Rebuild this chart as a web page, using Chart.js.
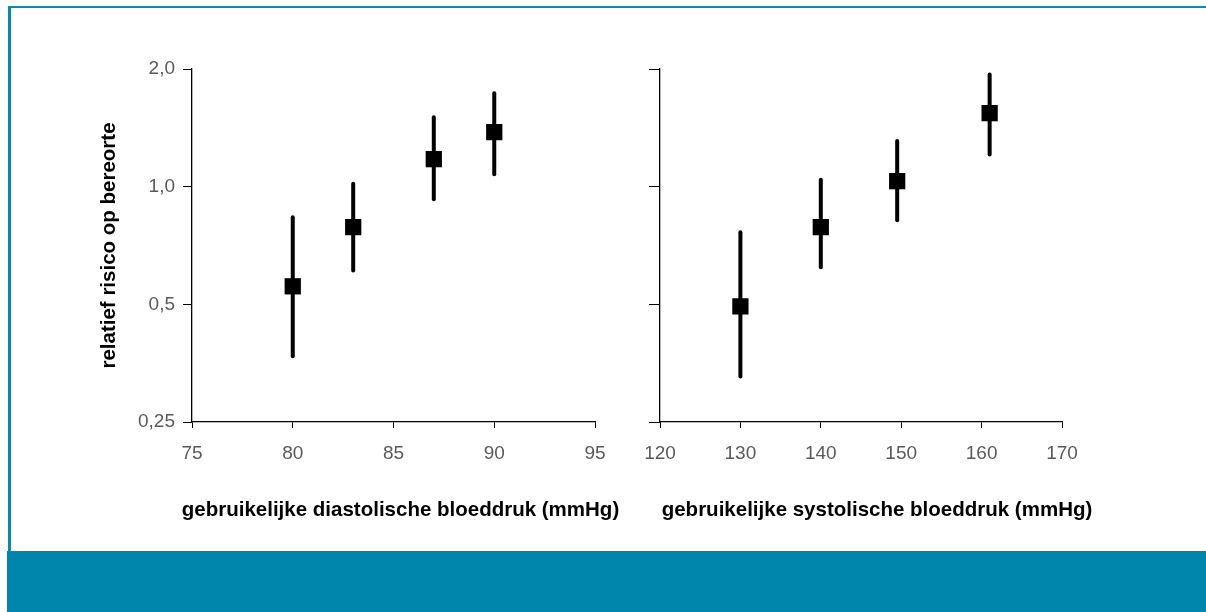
<!DOCTYPE html>
<html>
<head>
<meta charset="utf-8">
<script src="https://cdn.jsdelivr.net/npm/chart.js@4.4.1/dist/chart.umd.min.js"></script>
<style>
  html, body { margin: 0; padding: 0; background: #fff; }
  body { width: 1206px; height: 612px; position: relative; overflow: hidden; }
  .frame { position: absolute; left: 8px; top: 6px; width: 1210px; height: 560px;
           border-top: 2px solid #0a89b0; border-left: 3px solid #0a89b0; }
  .band { position: absolute; left: 7px; top: 551px; right: 0; bottom: 0; background: #0086ad; }
  .box { position: absolute; top: 0; }
</style>
</head>
<body>
<div class="frame"></div>
<div class="box" style="left:0;width:630px;height:550px;"><canvas id="dia" width="630" height="550"></canvas></div>
<div class="box" style="left:600px;width:606px;height:550px;"><canvas id="sys" width="606" height="550"></canvas></div>
<div class="band"></div>
<script>
// relatief risico (log-schaal)
const yTicks = [0.25, 0.5, 1, 2];
const yTickLabels = ['0,25', '0,5', '1,0', '2,0'];

// diastolisch
const diaX  = [80, 83, 87, 90];
const diaRR = [0.556, 0.788, 1.176, 1.379];
const diaLo = [0.368, 0.610, 0.929, 1.076];
const diaHi = [0.835, 1.017, 1.506, 1.735];

// systolisch
const sysX  = [130, 140, 149.5, 161];
const sysRR = [0.494, 0.788, 1.033, 1.542];
const sysLo = [0.327, 0.622, 0.820, 1.209];
const sysHi = [0.765, 1.041, 1.308, 1.937];

const tickFont = { family: "'Liberation Sans', Arial, sans-serif", size: 19, weight: 'normal' };
const titleFont = { family: "'Liberation Sans', Arial, sans-serif", size: 20.5, weight: 'bold' };

// verticale lijnen voor betrouwbaarheidsintervallen
const errorBars = {
  id: 'errorBars',
  beforeDatasetsDraw(chart, args, opts) {
    const { ctx, scales: { x, y } } = chart;
    const pts = chart.data.datasets[0].data;
    ctx.save();
    ctx.strokeStyle = '#000';
    ctx.lineWidth = 4;
    ctx.lineCap = 'round';
    pts.forEach((p, i) => {
      const px = x.getPixelForValue(p.x);
      ctx.beginPath();
      ctx.moveTo(px, y.getPixelForValue(opts.lo[i]));
      ctx.lineTo(px, y.getPixelForValue(opts.hi[i]));
      ctx.stroke();
    });
    ctx.restore();
  }
};

// x-as titel, breder dan de as zelf (scale-titel wordt anders samengedrukt)
const xTitle = {
  id: 'xTitle',
  afterDraw(chart, args, opts) {
    const { ctx, scales: { x } } = chart;
    ctx.save();
    ctx.font = `bold ${titleFont.size}px ${titleFont.family}`;
    ctx.fillStyle = '#000';
    ctx.textAlign = 'center';
    ctx.textBaseline = 'alphabetic';
    ctx.fillText(opts.text, (x.left + x.right) / 2 + opts.shift, opts.baseline);
    ctx.restore();
  }
};

function makeChart(id, xs, rr, lo, hi, xMin, xMax, xStep, title, opt) {
  new Chart(document.getElementById(id), {
    type: 'scatter',
    data: {
      datasets: [{
        data: xs.map((v, i) => ({ x: v, y: rr[i] })),
        pointStyle: 'rect',
        pointRadius: 11.5,
        pointHoverRadius: 11.5,
        borderWidth: 0,
        backgroundColor: '#000'
      }]
    },
    options: {
      responsive: false,
      animation: false,
      layout: { padding: opt.padding },
      plugins: {
        legend: { display: false },
        tooltip: { enabled: false },
        errorBars: { lo: lo, hi: hi },
        xTitle: { text: title, shift: opt.titleShift, baseline: 516 }
      },
      scales: {
        x: {
          type: 'linear',
          min: xMin, max: xMax,
          afterFit: s => { s.height = 110; },
          ticks: { stepSize: xStep, color: '#5a5a5a', font: tickFont, padding: 14, maxRotation: 0 },
          grid: { drawOnChartArea: false, drawTicks: true, tickLength: 6, color: '#000' },
          border: { display: true, color: '#000', width: 1.3 }
        },
        y: {
          type: 'logarithmic',
          min: 0.25, max: 2,
          afterFit: s => { s.width = opt.yWidth; },
          afterBuildTicks: axis => { axis.ticks = yTicks.map(v => ({ value: v })); },
          ticks: {
            autoSkip: false, color: '#5a5a5a', font: tickFont, padding: 8,
            callback: (v, i) => opt.yLabels ? yTickLabels[i] : ''
          },
          grid: { drawOnChartArea: false, drawTicks: true, tickLength: opt.tickLen, color: '#000' },
          border: { display: true, color: '#000', width: 1.3 },
          title: { display: !!opt.yTitle, text: opt.yTitle || '', color: '#000', font: titleFont, padding: { top: 0, bottom: 0 } }
        }
      }
    },
    plugins: [errorBars, xTitle]
  });
}

makeChart('dia', diaX, diaRR, diaLo, diaHi, 75, 95, 5,
  'gebruikelijke diastolische bloeddruk (mmHg)',
  { padding: { top: 69, right: 35, bottom: 18, left: 97 }, yWidth: 95, tickLen: 9, yLabels: true,
    yTitle: 'relatief risico op bereorte', titleShift: 7 });

makeChart('sys', sysX, sysRR, sysLo, sysHi, 120, 170, 10,
  'gebruikelijke systolische bloeddruk (mmHg)',
  { padding: { top: 69, right: 144, bottom: 18, left: 0 }, yWidth: 60, tickLen: 11, yLabels: false, titleShift: 16 });
</script>
</body>
</html>
